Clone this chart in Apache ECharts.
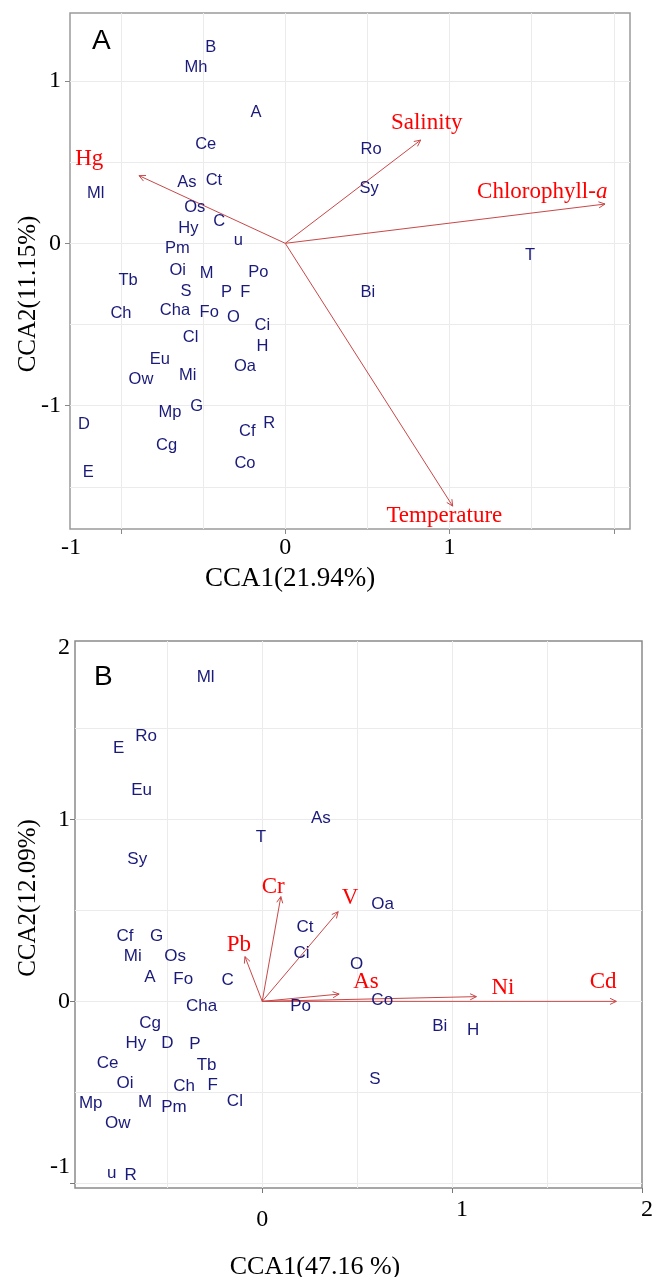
<!DOCTYPE html>
<html><head><meta charset="utf-8">
<script src="https://cdn.jsdelivr.net/npm/echarts@6/dist/echarts.min.js"></script>
<style>html,body{margin:0;padding:0;background:#fff}#c{width:656px;height:1277px}</style>
</head><body><div id="c"></div>
<script>
// ---------------- Panel A data ----------------
const speciesA = ['B','Mh','A','Ce','Ml','As','Ct','Os','C','Hy','u','Pm','Oi','M','Po','Tb','S','P','F','Ch','Cha','Fo','O','Ci','Cl','H','Eu','Oa','Ow','Mi','Mp','G','D','R','Cf','Cg','Co','E','Ro','Sy','T','Bi'];
const cca1A = [-0.454,-0.544,-0.178,-0.484,-1.154,-0.598,-0.434,-0.551,-0.402,-0.590,-0.286,-0.657,-0.655,-0.478,-0.164,-0.956,-0.604,-0.357,-0.243,-1.000,-0.671,-0.463,-0.316,-0.140,-0.576,-0.138,-0.763,-0.245,-0.878,-0.594,-0.702,-0.539,-1.225,-0.097,-0.231,-0.722,-0.245,-1.199,0.522,0.511,1.489,0.502];
const cca2A = [1.208,1.082,0.807,0.610,0.308,0.373,0.390,0.222,0.137,0.090,0.016,-0.031,-0.165,-0.185,-0.181,-0.230,-0.294,-0.302,-0.302,-0.431,-0.415,-0.428,-0.456,-0.503,-0.579,-0.633,-0.715,-0.756,-0.838,-0.816,-1.044,-1.007,-1.113,-1.109,-1.161,-1.243,-1.356,-1.413,0.579,0.335,-0.072,-0.302];
const envA = ['Hg','Salinity','Chlorophyll-a','Temperature'];
const envTipXA = [-0.890,0.824,1.946,1.019];
const envTipYA = [0.417,0.636,0.242,-1.619];
const envLabXA = [-1.193,0.861,1.564,0.968];
const envLabYA = [0.518,0.739,0.314,-1.678];
const xRangeA = [-1.310,2.098];
const yRangeA = [-1.760,1.419];
const xTickValsA = [-1,0,1,2];
const xTickLabelsA = [-1,0,1];
const yTickValsA = [-1,0,1];
const xTitleA = 'CCA1(21.94%)';
const yTitleA = 'CCA2(11.15%)';

// ---------------- Panel B data ----------------
const speciesB = ['Ml','Ro','E','Eu','As','T','Sy','Oa','Cf','G','Mi','Os','A','Fo','C','Cha','Cg','Hy','D','P','Ce','Tb','Oi','Ch','F','Cl','Mp','M','Pm','Ow','u','R','Po','Ct','Ci','O','Co','Bi','H','S'];
const cca1B = [-0.298,-0.612,-0.756,-0.635,0.309,-0.007,-0.658,0.634,-0.723,-0.556,-0.682,-0.459,-0.591,-0.416,-0.182,-0.319,-0.591,-0.665,-0.500,-0.354,-0.814,-0.293,-0.723,-0.412,-0.261,-0.144,-0.903,-0.617,-0.465,-0.761,-0.793,-0.693,0.202,0.225,0.207,0.497,0.632,0.935,1.111,0.593];
const cca2B = [1.781,1.455,1.391,1.158,1.007,0.902,0.781,0.536,0.360,0.360,0.246,0.246,0.133,0.122,0.114,-0.025,-0.120,-0.230,-0.230,-0.235,-0.340,-0.349,-0.449,-0.468,-0.459,-0.550,-0.559,-0.556,-0.581,-0.669,-0.944,-0.955,-0.029,0.408,0.265,0.201,0.004,-0.135,-0.160,-0.427];
const envB = ['Cr','V','Pb','As','Ni','Cd'];
const envTipXB = [0.098,0.400,-0.091,0.405,1.128,1.865];
const envTipYB = [0.576,0.493,0.246,0.040,0.026,0.000];
const envLabXB = [0.058,0.462,-0.123,0.546,1.268,1.795];
const envLabYB = [0.631,0.570,0.310,0.109,0.073,0.109];
const xRangeB = [-0.986,2.0];
const yRangeB = [-1.026,1.981];
const xTickValsB = [0,1,2];
const yTickValsB = [-1,0,1,2];
const xTitleB = 'CCA1(47.16 %)';
const yTitleB = 'CCA2(12.09%)';

// ---------------- styles ----------------
const SERIF = '"Liberation Serif","Times New Roman",serif';
const SANS = '"Liberation Sans",Arial,sans-serif';
const NAVY = '#1a1a7a';
const RED = '#ff0000';
const ARROW = '#c84848';
const GRIDC = '#ebebeb';
const BORDER = '#9a9a9a';

function arrowRender(params, api) {
  const o = api.coord([0, 0]);
  const p = api.coord([api.value(0), api.value(1)]);
  const ang = Math.atan2(p[1] - o[1], p[0] - o[0]);
  const L = 7, h = 0.45;
  const a1 = [p[0] - L * Math.cos(ang - h), p[1] - L * Math.sin(ang - h)];
  const a2 = [p[0] - L * Math.cos(ang + h), p[1] - L * Math.sin(ang + h)];
  return { type: 'group', children: [
    { type: 'line', shape: { x1: o[0], y1: o[1], x2: p[0], y2: p[1] }, style: { stroke: ARROW, lineWidth: 1 } },
    { type: 'polyline', shape: { points: [a1, p, a2] }, style: { stroke: ARROW, fill: null, lineWidth: 1 } }
  ]};
}

function zip3(a, b, c) { return a.map((v, i) => [v, b[i], c[i]]); }

const tickLab = { fontFamily: SERIF, fontSize: 24, color: '#000' };
function rs(extra) { return Object.assign({}, tickLab, extra || {}); }

function gridAxis(range, idx, minI) {
  return {
    type: 'value', gridIndex: idx, min: range[0], max: range[1],
    minInterval: minI, maxInterval: minI,
    axisLine: { show: false, onZero: false }, axisTick: { show: false }, axisLabel: { show: false },
    splitLine: { show: true, showMinLine: false, showMaxLine: false, lineStyle: { color: GRIDC, width: 1 } }
  };
}

const spLabel = { show: true, position: 'inside', fontFamily: SANS, color: NAVY, opacity: 1, textBorderWidth: 0, textShadowBlur: 0 };
const opaque = { opacity: 1 };

const option = {
  backgroundColor: '#fff',
  animation: false,
  title: [
    { text: 'A', left: 92, top: 27, padding: 0, textStyle: { fontFamily: SANS, fontSize: 28, fontWeight: 'normal', color: '#000' } },
    { text: 'B', left: 94, top: 663, padding: 0, textStyle: { fontFamily: SANS, fontSize: 28, fontWeight: 'normal', color: '#000' } }
  ],
  grid: [
    { left: 70, top: 13, width: 560, height: 516, show: true, backgroundColor: '#fff', borderColor: BORDER, borderWidth: 1.5, outerBoundsMode: 'none', containLabel: false },
    { left: 75, top: 641, width: 567, height: 547, show: true, backgroundColor: '#fff', borderColor: '#8a8a8a', borderWidth: 1.5, outerBoundsMode: 'none', containLabel: false }
  ],
  xAxis: [
    gridAxis(xRangeA, 0, 0.5),
    {
      type: 'value', gridIndex: 0, position: 'bottom', min: xRangeA[0], max: xRangeA[1],
      axisLine: { show: false, onZero: false }, splitLine: { show: false },
      axisTick: { show: true, customValues: xTickValsA, length: 5, lineStyle: { color: '#888' } },
      axisLabel: { show: true, customValues: xTickLabelsA, margin: 7, hideOverlap: false,
        formatter: v => (v < 0 ? '{l|' + v + '}' : '{n|' + v + '}'),
        rich: { n: rs(), l: rs({ padding: [0, 100, 0, 0] }) } },
      name: xTitleA, nameLocation: 'middle', nameGap: 36, nameMoveOverlap: false,
      nameTextStyle: { fontFamily: SERIF, fontSize: 27, color: '#000', padding: [0, 120, 0, 0] }
    },
    gridAxis(xRangeB, 1, 0.5),
    {
      type: 'value', gridIndex: 1, position: 'bottom', min: xRangeB[0], max: xRangeB[1],
      axisLine: { show: false, onZero: false }, splitLine: { show: false },
      axisTick: { show: true, customValues: xTickValsB, length: 5, lineStyle: { color: '#777' } },
      axisLabel: { show: true, customValues: xTickValsB, margin: 10, hideOverlap: false,
        formatter: v => (v === 0 ? '{z|0}' : v === 1 ? '{o|1}' : '{t|' + v + '}'),
        rich: { z: rs({ padding: [10, 0, 0, 0] }), o: rs({ padding: [0, 0, 0, 20] }), t: rs({ padding: [0, 0, 0, 10] }) } },
      name: xTitleB, nameLocation: 'middle', nameGap: 66, nameMoveOverlap: false,
      nameTextStyle: { fontFamily: SERIF, fontSize: 26, color: '#000', padding: [0, 87, 0, 0] }
    }
  ],
  yAxis: [
    gridAxis(yRangeA, 0, 0.5),
    {
      type: 'value', gridIndex: 0, position: 'left', min: yRangeA[0], max: yRangeA[1],
      axisLine: { show: false, onZero: false }, splitLine: { show: false },
      axisTick: { show: true, customValues: yTickValsA, length: 5, lineStyle: { color: '#888' } },
      axisLabel: { show: true, customValues: yTickValsA, margin: 9, hideOverlap: false,
        formatter: v => '{n|' + v + '}', rich: { n: rs() } },
      name: yTitleA, nameLocation: 'middle', nameGap: 29, nameMoveOverlap: false,
      nameTextStyle: { fontFamily: SERIF, fontSize: 25, color: '#000', padding: [0, 46, 0, 0] }
    },
    gridAxis(yRangeB, 1, 0.5),
    {
      type: 'value', gridIndex: 1, position: 'left', min: yRangeB[0], max: yRangeB[1],
      axisLine: { show: false, onZero: false }, splitLine: { show: false },
      axisTick: { show: true, customValues: yTickValsB.filter(v => v <= yRangeB[1]), length: 5, lineStyle: { color: '#777' } },
      axisLabel: { show: true, customValues: yTickValsB.map(v => Math.min(v, yRangeB[1])), margin: 5, hideOverlap: false,
        formatter: v => { const r = Math.round(v); return r === 2 ? '{t|2}' : r === -1 ? '{m|-1}' : '{n|' + r + '}'; },
        rich: { n: rs(), t: rs({ padding: [14, 0, 0, 0] }), m: rs({ padding: [0, 0, 34, 0] }) } },
      name: yTitleB, nameLocation: 'middle', nameGap: 34, nameMoveOverlap: false,
      nameTextStyle: { fontFamily: SERIF, fontSize: 25, color: '#000', padding: [0, 0, 0, 33] }
    }
  ],
  series: [
    { type: 'custom', xAxisIndex: 0, yAxisIndex: 0, renderItem: arrowRender, data: envTipXA.map((v, i) => [v, envTipYA[i]]), z: 3, silent: true },
    { type: 'scatter', xAxisIndex: 0, yAxisIndex: 0, symbolSize: 0, itemStyle: opaque, data: zip3(cca1A, cca2A, speciesA), z: 4, silent: true,
      label: Object.assign({}, spLabel, { fontSize: 16.5, formatter: p => p.value[2] }) },
    { type: 'scatter', xAxisIndex: 0, yAxisIndex: 0, symbolSize: 0, itemStyle: opaque, data: zip3(envLabXA, envLabYA, envA), z: 5, silent: true,
      label: { show: true, position: 'inside', opacity: 1, textBorderWidth: 0,
        formatter: p => { const s = p.value[2]; const k = s.lastIndexOf('-'); return k > 0 ? '{n|' + s.slice(0, k + 1) + '}{i|' + s.slice(k + 1) + '}' : '{n|' + s + '}'; },
        rich: { n: { fontFamily: SERIF, fontSize: 23, color: RED, textBorderWidth: 0 }, i: { fontFamily: SERIF, fontSize: 23, fontStyle: 'italic', color: RED, textBorderWidth: 0 } } } },
    { type: 'custom', xAxisIndex: 2, yAxisIndex: 2, renderItem: arrowRender, data: envTipXB.map((v, i) => [v, envTipYB[i]]), z: 3, silent: true },
    { type: 'scatter', xAxisIndex: 2, yAxisIndex: 2, symbolSize: 0, itemStyle: opaque, data: zip3(cca1B, cca2B, speciesB), z: 4, silent: true,
      label: Object.assign({}, spLabel, { fontSize: 17, formatter: p => p.value[2] }) },
    { type: 'scatter', xAxisIndex: 2, yAxisIndex: 2, symbolSize: 0, itemStyle: opaque, data: zip3(envLabXB, envLabYB, envB), z: 5, silent: true,
      label: { show: true, position: 'inside', opacity: 1, textBorderWidth: 0, formatter: p => '{n|' + p.value[2] + '}',
        rich: { n: { fontFamily: SERIF, fontSize: 23, color: RED, textBorderWidth: 0 } } } }
  ]
};
const chart = echarts.init(document.getElementById('c'));
chart.setOption(option);
</script></body></html>
